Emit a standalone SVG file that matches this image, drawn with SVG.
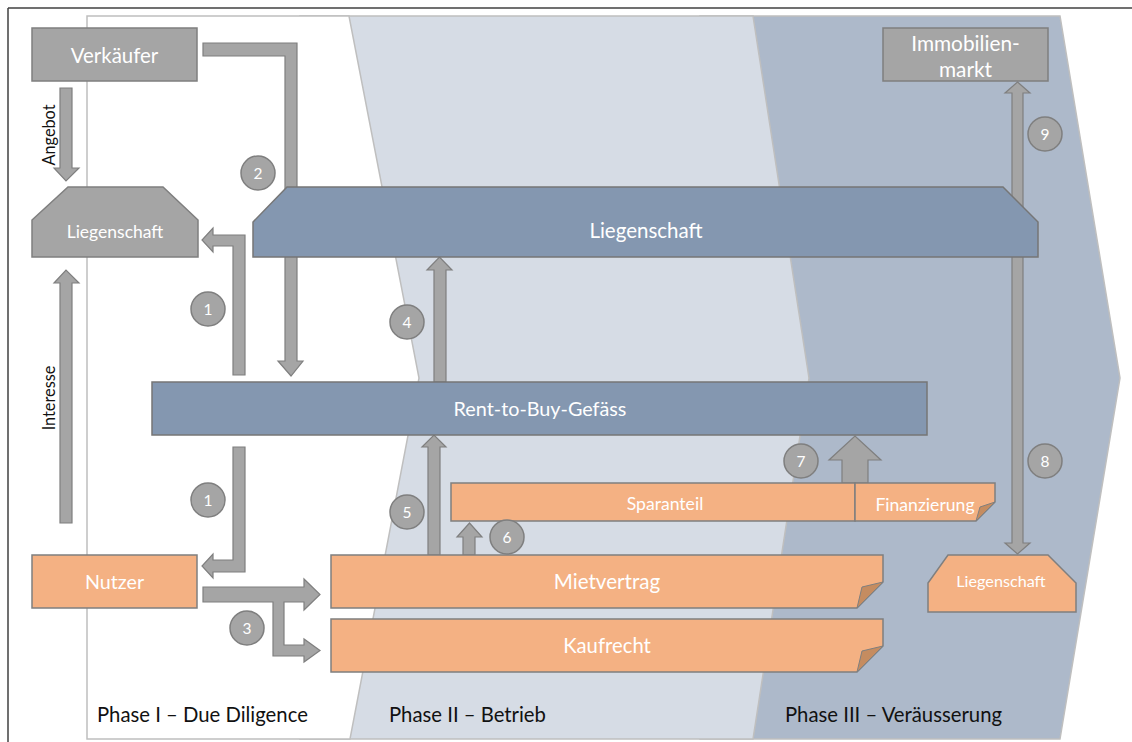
<svg xmlns="http://www.w3.org/2000/svg" width="1132" height="742" viewBox="0 0 1132 742">
  <style>
    .frame { stroke: #404040; stroke-width: 1.5; fill: none; }
    .phase { stroke: #BFBFBF; stroke-width: 1.5; }
    .grey { fill: #A5A5A5; stroke: #7F7F7F; stroke-width: 1.5; }
    .blue { fill: #8497B0; stroke: #767676; stroke-width: 1.5; }
    .orange { fill: #F4B183; stroke: #7F7F7F; stroke-width: 1.5; }
    .fold { fill: #C58C60; stroke: #7F7F7F; stroke-width: 1; }
    .arrow { fill: #A5A5A5; stroke: #7F7F7F; stroke-width: 1.2; }
    .badge { fill: #A5A5A5; stroke: #7F7F7F; stroke-width: 1.5; }
    text { font-family: Lato, "Open Sans", "Noto Sans", sans-serif; }
    .lbl { fill: #FFFFFF; text-anchor: middle; dominant-baseline: central; }
    .num { fill: #FFFFFF; text-anchor: middle; dominant-baseline: central; font-size: 15.5px; }
    .phaselbl { fill: #111111; font-size: 20.3px; }
    .side { fill: #111111; font-size: 16.3px; text-anchor: middle; }
  </style>

  <!-- outer frame -->
  <line class="frame" x1="8" y1="8" x2="1132" y2="8"/>
  <line class="frame" x1="8" y1="8" x2="8" y2="742"/>

  <!-- phase bands (back to front) -->
  <g id="phase3">
    <polygon class="phase" fill="#ADB9CA" points="700,16 1060,16 1120,378 1060,739 700,739"/>
    <text class="phaselbl" x="785" y="722">Phase III – Veräusserung</text>
  </g>
  <g id="phase2">
    <polygon class="phase" fill="#D6DCE5" points="300,16 753,16 809,378 753,739 300,739"/>
    <text class="phaselbl" x="389" y="722">Phase II – Betrieb</text>
  </g>
  <g id="phase1">
    <polygon class="phase" fill="#FFFFFF" points="87,16 349,16 419,378 350,739 87,739"/>
    <text class="phaselbl" x="97" y="722">Phase I – Due Diligence</text>
  </g>

  <!-- connectors -->
  <g id="connectors">
    <!-- Angebot -->
    <polygon class="arrow" points="60,88 72,88 72,168 79,168 66,181 54,168 60,168"/>
    <text class="side" transform="translate(55,135) rotate(-90)">Angebot</text>
    <!-- Interesse -->
    <polygon class="arrow" points="60,523 72,523 72,283 79,283 66,270 54,283 60,283"/>
    <text class="side" transform="translate(55,398) rotate(-90)">Interesse</text>
    <!-- 2: Verkäufer to Rent-to-Buy -->
    <polygon class="arrow" points="203,43 297,43 297,361 303,361 291,376 278,361 285,361 285,56 203,56"/>
    <!-- 1: Rent-to-Buy to Liegenschaft -->
    <polygon class="arrow" points="233,375 233,246 213,246 213,252 202,240 213,228 213,235 245,235 245,375"/>
    <!-- 1: Rent-to-Buy to Nutzer -->
    <polygon class="arrow" points="233,447 245,447 245,572 213,572 213,578 202,566 213,554 213,560 233,560"/>
    <!-- 3: Nutzer to Mietvertrag / Kaufrecht -->
    <polygon class="arrow" points="203,587 304,587 304,579 320,594.5 304,610 304,602 284,602 284,645 304,645 304,639 320,650.5 304,662 304,656 273,656 273,602 203,602"/>
    <!-- 4: Rent-to-Buy to Liegenschaft -->
    <polygon class="arrow" points="434,382 434,270 427,270 439.5,257 452,270 446,270 446,382"/>
    <!-- 5: Mietvertrag to Rent-to-Buy -->
    <polygon class="arrow" points="428,555 428,447 422,447 434,435 446,447 440,447 440,555"/>
    <!-- 6: Mietvertrag to Sparanteil -->
    <polygon class="arrow" points="463,555 463,537 457,537 469.5,523 482,537 475,537 475,555"/>
    <!-- 7: Finanzierung to Rent-to-Buy -->
    <polygon class="arrow" points="842,483 842,460 829,460 855,436 881,460 868,460 868,483"/>
    <!-- 8 / 9: Immobilienmarkt to Liegenschaft -->
    <polygon class="arrow" points="1017.5,82 1030,93 1023,93 1023,543 1030,543 1017.5,554 1005,543 1012,543 1012,93 1005,93"/>
  </g>

  <!-- nodes -->
  <g id="verkaeufer">
    <rect class="grey" x="32" y="28" width="165" height="53"/>
    <text class="lbl" x="114.5" y="55" font-size="20.4">Verkäufer</text>
  </g>
  <g id="liegenschaft-dd">
    <polygon class="grey" points="68,187 163,187 198,220 198,257 32,257 32,220"/>
    <text class="lbl" x="115" y="231" font-size="17.5">Liegenschaft</text>
  </g>
  <g id="liegenschaft-betrieb">
    <polygon class="blue" points="287,187 1003,187 1038,222 1038,257 253,257 253,222"/>
    <text class="lbl" x="646" y="230" font-size="20.5">Liegenschaft</text>
  </g>
  <g id="immobilienmarkt">
    <rect class="grey" x="883" y="28" width="165" height="53"/>
    <text class="lbl" x="965.5" y="42" font-size="20.8">Immobilien-</text>
    <text class="lbl" x="965.5" y="68" font-size="20.8">markt</text>
  </g>
  <g id="rent-to-buy">
    <rect class="blue" x="152" y="382" width="775" height="53"/>
    <text class="lbl" x="540" y="408" font-size="19.8">Rent-to-Buy-Gefäss</text>
  </g>
  <g id="nutzer">
    <rect class="orange" x="32" y="555" width="165" height="53"/>
    <text class="lbl" x="114.5" y="581" font-size="19.7">Nutzer</text>
  </g>
  <g id="sparanteil">
    <rect class="orange" x="451" y="483" width="404" height="38"/>
    <text class="lbl" x="665" y="503" font-size="17.6">Sparanteil</text>
  </g>
  <g id="finanzierung">
    <polygon class="orange" points="855,483 995,483 995,502 976,521 855,521"/>
    <polygon class="fold" points="995,502 976,521 980,507"/>
    <text class="lbl" x="925" y="504" font-size="17.6">Finanzierung</text>
  </g>
  <g id="mietvertrag">
    <polygon class="orange" points="331,555 883,555 883,582 857,608 331,608"/>
    <polygon class="fold" points="883,582 857,608 862,587"/>
    <text class="lbl" x="607" y="581" font-size="20.6">Mietvertrag</text>
  </g>
  <g id="kaufrecht">
    <polygon class="orange" points="331,619 883,619 883,646 857,672 331,672"/>
    <polygon class="fold" points="883,646 857,672 862,651"/>
    <text class="lbl" x="607" y="645" font-size="20.3">Kaufrecht</text>
  </g>
  <g id="liegenschaft-verkauf">
    <polygon class="orange" points="948,555 1048,555 1076,583 1076,612 928,612 928,583"/>
    <text class="lbl" x="1001" y="580" font-size="16.2">Liegenschaft</text>
  </g>

  <!-- step badges -->
  <g id="badge-1a"><circle class="badge" cx="208" cy="309" r="17"/><text class="num" x="208" y="309">1</text></g>
  <g id="badge-1b"><circle class="badge" cx="208" cy="500" r="17"/><text class="num" x="208" y="500">1</text></g>
  <g id="badge-2"><circle class="badge" cx="258" cy="173" r="17"/><text class="num" x="258" y="173">2</text></g>
  <g id="badge-3"><circle class="badge" cx="247" cy="628" r="17"/><text class="num" x="247" y="628">3</text></g>
  <g id="badge-4"><circle class="badge" cx="407" cy="322" r="17"/><text class="num" x="407" y="322">4</text></g>
  <g id="badge-5"><circle class="badge" cx="407" cy="512" r="17"/><text class="num" x="407" y="512">5</text></g>
  <g id="badge-6"><circle class="badge" cx="507" cy="537" r="17"/><text class="num" x="507" y="537">6</text></g>
  <g id="badge-7"><circle class="badge" cx="801" cy="461" r="17"/><text class="num" x="801" y="461">7</text></g>
  <g id="badge-8"><circle class="badge" cx="1045" cy="461" r="17"/><text class="num" x="1045" y="461">8</text></g>
  <g id="badge-9"><circle class="badge" cx="1045" cy="134" r="17"/><text class="num" x="1045" y="134">9</text></g>
</svg>
